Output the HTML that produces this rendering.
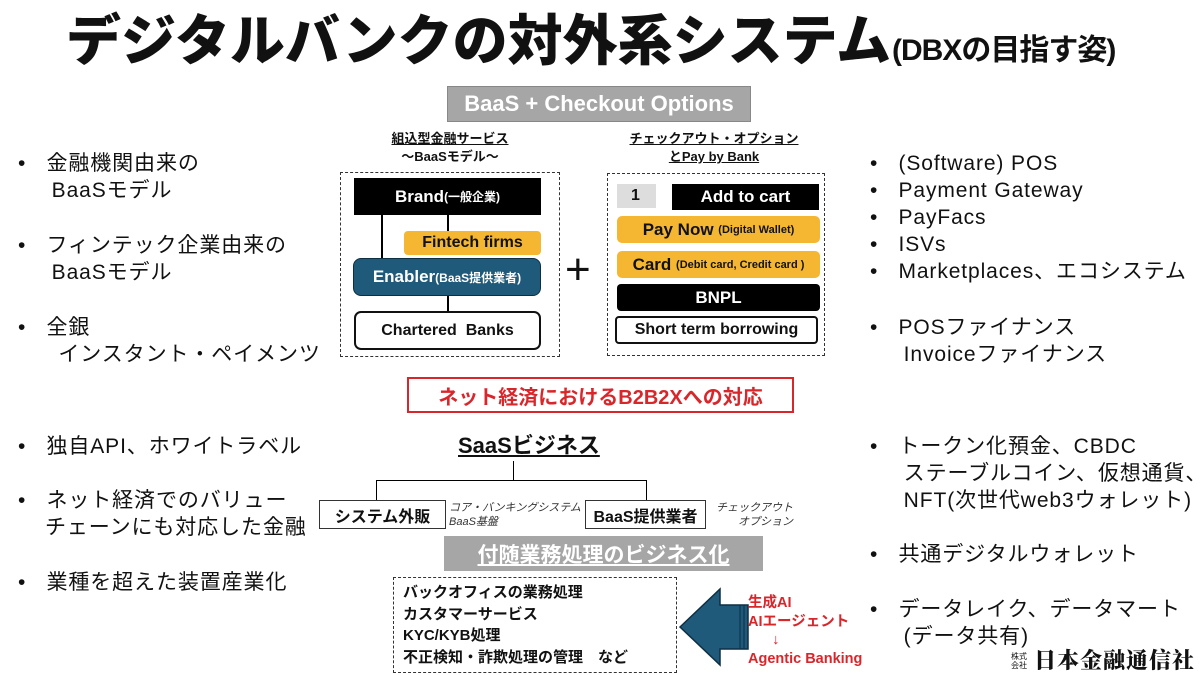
<!DOCTYPE html>
<html><head><meta charset="utf-8"><style>
*{margin:0;padding:0;box-sizing:border-box}
body{width:1200px;height:674px;background:#fff;position:relative;overflow:hidden;font-family:"Liberation Sans","Noto Sans CJK JP",sans-serif;color:#111}
.a{position:absolute;white-space:nowrap}
.b{font-size:21px;line-height:27px;letter-spacing:0.9px}
.bx{position:absolute;display:flex;align-items:center;justify-content:center;font-weight:bold;white-space:nowrap}
.ln{position:absolute;background:#000}
</style></head><body>
<div class="a" style="left:66px;top:8px;font-size:55px;font-weight:900;line-height:66px;letter-spacing:0px">デジタルバンクの対外系システム</div>
<div class="a" style="left:892px;top:30px;font-size:30px;font-weight:bold;line-height:42px;letter-spacing:-1px">(DBXの目指す姿)</div>

<div class="a b" style="left:18px;top:150px">•&nbsp;&nbsp; 金融機関由来の<br>&nbsp;&nbsp;&nbsp;&nbsp;&nbsp;BaaSモデル</div>
<div class="a b" style="left:18px;top:232px">•&nbsp;&nbsp; フィンテック企業由来の<br>&nbsp;&nbsp;&nbsp;&nbsp;&nbsp;BaaSモデル</div>
<div class="a b" style="left:18px;top:314px">•&nbsp;&nbsp; 全銀<br>&nbsp;&nbsp;&nbsp;&nbsp;&nbsp;&nbsp;インスタント・ペイメンツ</div>
<div class="a b" style="left:18px;top:433px">•&nbsp;&nbsp; 独自API、ホワイトラベル</div>
<div class="a b" style="left:18px;top:487px">•&nbsp;&nbsp; ネット経済でのバリュー<br>&nbsp;&nbsp;&nbsp;&nbsp;チェーンにも対応した金融</div>
<div class="a b" style="left:18px;top:569px">•&nbsp;&nbsp; 業種を超えた装置産業化</div>

<div class="a b" style="left:870px;top:150px">•&nbsp;&nbsp; (Software) POS<br>•&nbsp;&nbsp; Payment Gateway<br>•&nbsp;&nbsp; PayFacs<br>•&nbsp;&nbsp; ISVs<br>•&nbsp;&nbsp; Marketplaces、エコシステム</div>
<div class="a b" style="left:870px;top:314px">•&nbsp;&nbsp; POSファイナンス<br>&nbsp;&nbsp;&nbsp;&nbsp;&nbsp;Invoiceファイナンス</div>
<div class="a b" style="left:870px;top:433px">•&nbsp;&nbsp; トークン化預金、CBDC<br>&nbsp;&nbsp;&nbsp;&nbsp;&nbsp;ステーブルコイン、仮想通貨、<br>&nbsp;&nbsp;&nbsp;&nbsp;&nbsp;NFT(次世代web3ウォレット)</div>
<div class="a b" style="left:870px;top:541px">•&nbsp;&nbsp; 共通デジタルウォレット</div>
<div class="a b" style="left:870px;top:596px">•&nbsp;&nbsp; データレイク、データマート<br>&nbsp;&nbsp;&nbsp;&nbsp;&nbsp;(データ共有)</div>

<div class="bx" style="left:447px;top:86px;width:304px;height:36px;background:#a6a6a6;border:1px solid #888;color:#fff;font-size:22px">BaaS + Checkout Options</div>
<div class="a" style="left:350px;top:130px;width:200px;text-align:center;font-size:13px;font-weight:bold;line-height:18px"><u>組込型金融サービス</u><br>〜BaaSモデル〜</div>
<div class="a" style="left:600px;top:130px;width:228px;text-align:center;font-size:13px;font-weight:bold;line-height:18px"><u>チェックアウト・オプション</u><br><u>とPay by Bank</u></div>

<div class="a" style="left:340px;top:172px;width:220px;height:185px;border:1.5px dashed #333"></div>
<div class="ln" style="left:381px;top:214px;width:2px;height:45px"></div>
<div class="ln" style="left:447px;top:214px;width:2px;height:18px"></div>
<div class="ln" style="left:447px;top:295px;width:2px;height:17px"></div>
<div class="bx" style="left:354px;top:178px;width:187px;height:37px;background:#000;color:#fff;font-size:17px">Brand<span style="font-size:12px">(一般企業)</span></div>
<div class="bx" style="left:404px;top:231px;width:137px;height:24px;background:#f5b731;border-radius:4px;font-size:16px">Fintech firms</div>
<div class="bx" style="left:353px;top:258px;width:188px;height:38px;background:#1f5a7a;border:1.5px solid #0d2f44;border-radius:8px;color:#fff;font-size:17px">Enabler<span style="font-size:12px">(BaaS提供業者)</span></div>
<div class="bx" style="left:354px;top:311px;width:187px;height:39px;background:#fff;border:2px solid #111;border-radius:7px;font-size:16px">Chartered&nbsp; Banks</div>

<div class="a" style="left:565px;top:248px;font-size:44px;line-height:44px;font-weight:300">+</div>

<div class="a" style="left:607px;top:173px;width:218px;height:183px;border:1.5px dashed #333"></div>
<div class="bx" style="left:617px;top:184px;width:39px;height:24px;background:#ddd;justify-content:flex-start;padding-left:14px;font-size:16px">1</div>
<div class="bx" style="left:672px;top:184px;width:147px;height:26px;background:#000;color:#fff;font-size:17px">Add to cart</div>
<div class="bx" style="left:617px;top:216px;width:203px;height:27px;background:#f5b731;border-radius:5px;font-size:17px">Pay Now&nbsp;<span style="font-size:11px">(Digital Wallet)</span></div>
<div class="bx" style="left:617px;top:251px;width:203px;height:27px;background:#f5b731;border-radius:5px;font-size:17px">Card&nbsp;<span style="font-size:11px">(Debit card, Credit card )</span></div>
<div class="bx" style="left:617px;top:284px;width:203px;height:27px;background:#000;border-radius:4px;color:#fff;font-size:17px">BNPL</div>
<div class="bx" style="left:615px;top:316px;width:203px;height:28px;background:#fff;border:2px solid #111;border-radius:4px;font-size:16px">Short term borrowing</div>

<div class="bx" style="left:407px;top:377px;width:387px;height:36px;border:2px solid #d9262b;color:#d9262b;font-size:20px">ネット経済におけるB2B2Xへの対応</div>

<div class="a" style="left:458px;top:432px;font-size:22px;font-weight:bold;line-height:28px;text-decoration:underline">SaaSビジネス</div>
<div class="ln" style="left:513px;top:461px;width:1px;height:20px"></div>
<div class="ln" style="left:376px;top:480px;width:271px;height:1px"></div>
<div class="ln" style="left:376px;top:480px;width:1px;height:20px"></div>
<div class="ln" style="left:646px;top:480px;width:1px;height:20px"></div>
<div class="bx" style="left:319px;top:500px;width:127px;height:29px;border:1px solid #333;font-size:16px">システム外販</div>
<div class="bx" style="left:585px;top:500px;width:121px;height:29px;border:1px solid #333;font-size:16px">BaaS提供業者</div>
<div class="a" style="left:449px;top:501px;font-size:11px;font-style:italic;line-height:14px;color:#333">コア・バンキングシステム<br>BaaS基盤</div>
<div class="a" style="left:716px;top:501px;font-size:11px;font-style:italic;line-height:14px;color:#333;text-align:right">チェックアウト<br>オプション</div>
<div class="bx" style="left:444px;top:536px;width:319px;height:35px;background:#a6a6a6;color:#fff;font-size:21px;text-decoration:underline">付随業務処理のビジネス化</div>

<div class="a" style="left:393px;top:577px;width:284px;height:96px;border:1.5px dashed #333"></div>
<div class="a" style="left:403px;top:582px;font-size:15px;font-weight:bold;line-height:21.5px">バックオフィスの業務処理<br>カスタマーサービス<br>KYC/KYB処理<br>不正検知・詐欺処理の管理　など</div>

<svg class="a" style="left:676px;top:585px" width="76" height="86" viewBox="0 0 76 86">
<polygon points="4,42 44,4 44,20 72,20 72,64 44,64 44,80" fill="#1f5a7a" stroke="#0d2f44" stroke-width="1.5"/>
<line x1="64" y1="20" x2="64" y2="64" stroke="#0d2f44"/><line x1="68" y1="20" x2="68" y2="64" stroke="#0d2f44"/>
</svg>
<div class="a" style="left:748px;top:594px;font-size:14.5px;font-weight:bold;color:#d9262b;line-height:18.5px">生成AI<br>AIエージェント<br>&nbsp;&nbsp;&nbsp;&nbsp;&nbsp;&nbsp;↓<br>Agentic Banking</div>

<div class="a" style="left:1011px;top:652px;font-size:8px;line-height:9px">株式<br>会社</div>
<div class="a" style="left:1034px;top:648px;font-size:22px;font-weight:900;line-height:24px;letter-spacing:1px;font-family:'Noto Serif CJK SC',serif">日本金融通信社</div>
</body></html>
